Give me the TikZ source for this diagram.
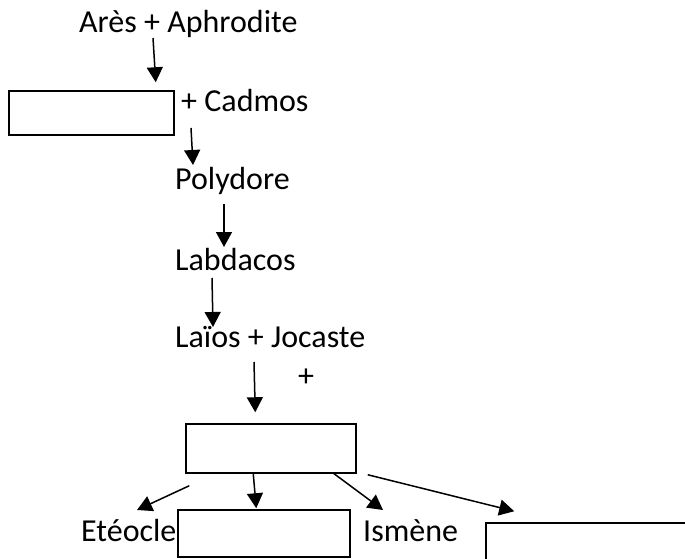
\documentclass[tikz,border=0pt]{standalone}
\usepackage{fontspec}
\setmainfont{Carlito}
\usetikzlibrary{arrows.meta}

\begin{document}
\begin{tikzpicture}[x=1pt,y=1pt,
  person/.style={anchor=base west,inner sep=0pt,font=\fontsize{32}{38}\selectfont},
  blank/.style={draw,line width=1.5pt,inner sep=0pt},
  arr/.style={line width=1.5pt,-{Triangle[length=15pt,width=16pt]}}]
\useasboundingbox (0,0) rectangle (685,-559);
% the names
\node[person] (ares) at (79,-33) {Arès + Aphrodite};
\node[person] (cadmos) at (181,-112) {+ Cadmos};
\node[person] (polydore) at (175,-189) {Polydore};
\node[person] (labdacos) at (175,-270) {Labdacos};
\node[person] (laios) at (175,-347) {Laïos + Jocaste};
\node[person] (plus) at (298,-386) {+};
\node[person] (eteocle) at (81,-541) {Etéocle};
\node[person] (ismene) at (363,-541) {Ismène};
% the empty boxes
\node[blank,minimum width=165pt,minimum height=44pt] (harmonie) at (91.5,-113) {};
\node[blank,minimum width=170pt,minimum height=49pt] (oedipe) at (271,-448.5) {};
\node[blank,minimum width=172pt,minimum height=47pt] (polynice) at (264,-533.5) {};
\node[blank,minimum width=230pt,minimum height=50pt] (antigone) at (601,-548) {};
% the arrows
\draw[arr] ([shift={(74,-5)}]ares.base west) -- ([shift={(-19,8)}]harmonie.north east);
\draw[arr] ([shift={(10,-16)}]cadmos.base west) -- ([shift={(18,24)}]polydore.base west);
\draw[arr] ([shift={(49,-15)}]polydore.base west) -- ([shift={(49,23)}]labdacos.base west);
\draw[arr] ([shift={(37,-8)}]labdacos.base west) -- ([shift={(38,20)}]laios.base west);
\draw[arr] ([shift={(79,-15)}]laios.base west) -- ([shift={(70,11)}]oedipe.north west);
\draw[arr] ([shift={(4,-12)}]oedipe.south west) -- ([shift={(56,31)}]eteocle.base west);
\draw[arr] ([shift={(68,0)}]oedipe.south west) -- ([shift={(79,1)}]polynice.north west);
\draw[arr] ([shift={(-24,1)}]oedipe.south east) -- ([shift={(20,31)}]ismene.base west);
\draw[arr] ([shift={(11,-1)}]oedipe.south east) -- ([shift={(29,11)}]antigone.north west);
\end{tikzpicture}
\end{document}
